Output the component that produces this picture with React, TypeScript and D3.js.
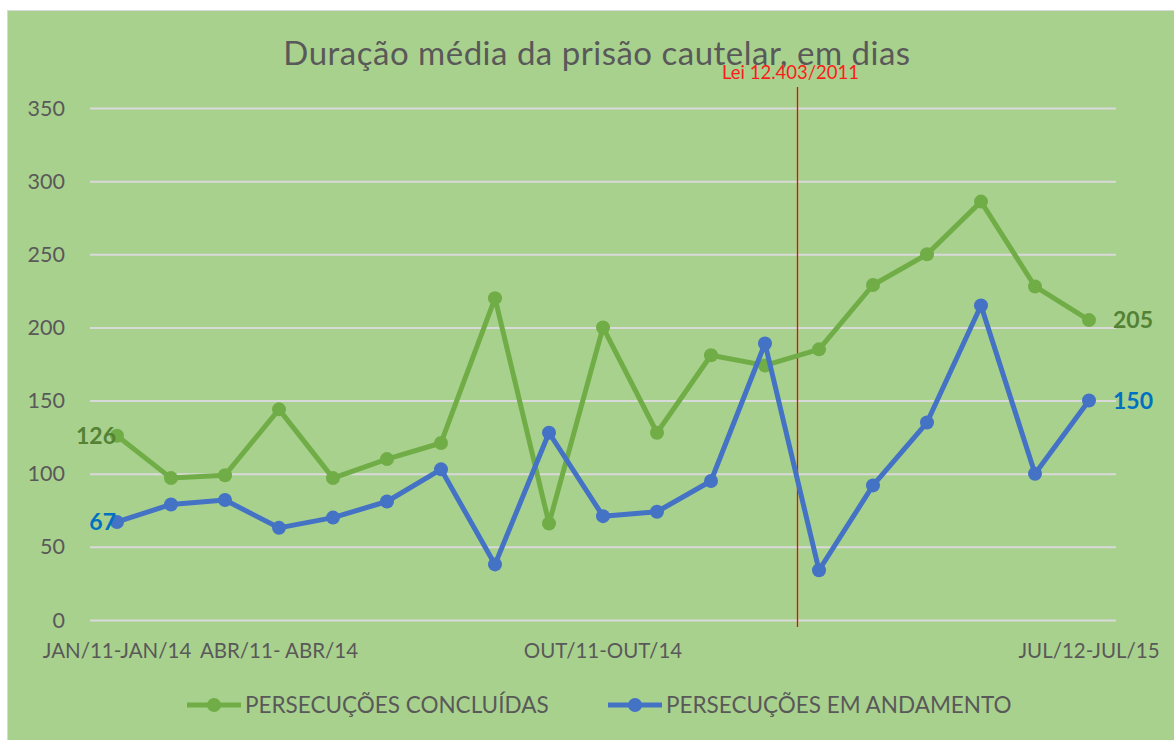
import { useEffect, useRef } from 'react';
import * as d3 from 'd3';

const categories = [
  'JAN/11-JAN/14', '', '', 'ABR/11- ABR/14', '', '', '', '', '', 'OUT/11-OUT/14',
  '', '', '', '', '', '', '', '', 'JUL/12-JUL/15',
];
const concluidas = [126, 97, 99, 144, 97, 110, 121, 220, 66, 200, 128, 181, 174, 185, 229, 250, 286, 228, 205];
const andamento = [67, 79, 82, 63, 70, 81, 103, 38, 128, 71, 74, 95, 189, 34, 92, 135, 215, 100, 150];
const yTicks = [0, 50, 100, 150, 200, 250, 300, 350];
const leiLabel = 'Lei 12.403/2011';
const leiIndex = 12.6;

const W = 1174;
const H = 740;
const FONT = 'Lato, "Open Sans", sans-serif';
const GREEN = '#70ad47';
const BLUE = '#4472c4';

export default function App() {
  const svgRef = useRef<SVGSVGElement>(null);

  useEffect(() => {
    document.body.style.margin = '0';
    if (!svgRef.current) return;
    const svg = d3.select(svgRef.current);
    svg.selectAll('*').remove();

    const left = 90;
    const right = 1116;
    const x = d3.scaleLinear().domain([-0.5, categories.length - 0.5]).range([left, right]);
    const y = d3.scaleLinear().domain([0, 350]).range([620, 108]);

    // background
    svg.append('rect').attr('width', W).attr('height', H).attr('fill', '#fff');
    svg.append('rect')
      .attr('x', 7.5).attr('y', 10.5).attr('width', W).attr('height', H)
      .attr('fill', '#a9d18e').attr('stroke', '#d9d9d9');

    // title
    svg.append('text')
      .attr('x', 597).attr('y', 65)
      .attr('text-anchor', 'middle')
      .attr('font-family', FONT).attr('font-size', 33)
      .attr('letter-spacing', 0.5)
      .attr('fill', '#595959')
      .text('Duração média da prisão cautelar, em dias');

    // grid
    svg.append('g')
      .attr('transform', `translate(${left},0)`)
      .call(d3.axisLeft(y).tickValues(yTicks).tickSize(-(right - left)).tickFormat(() => ''))
      .call((g) => g.select('.domain').remove())
      .call((g) => g.selectAll('line').attr('stroke', '#d9d9d9').attr('stroke-width', 2));

    // y labels
    svg.append('g')
      .selectAll('text')
      .data(yTicks)
      .join('text')
      .attr('x', 65).attr('y', (d) => y(d) + 7.5)
      .attr('text-anchor', 'end')
      .attr('font-family', FONT).attr('font-size', 21.5)
      .attr('fill', '#595959')
      .text((d) => d);

    // x labels
    svg.append('g')
      .selectAll('text')
      .data(categories)
      .join('text')
      .attr('x', (_, i) => x(i)).attr('y', 658)
      .attr('text-anchor', 'middle')
      .attr('font-family', FONT).attr('font-size', 20.5)
      .attr('fill', '#595959')
      .text((d) => d);

    // Lei marker
    const lx = Math.round(x(leiIndex)) + 0.5;
    svg.append('line')
      .attr('x1', lx).attr('x2', lx)
      .attr('y1', 87).attr('y2', 627)
      .attr('stroke', '#ff0000').attr('stroke-width', 1.3);
    svg.append('text')
      .attr('x', lx - 7).attr('y', 79)
      .attr('text-anchor', 'middle')
      .attr('font-family', FONT).attr('font-size', 18.5)
      .attr('fill', '#ff1a1a')
      .text(leiLabel);

    const series = [
      { values: concluidas, color: GREEN, labelColor: '#548235' },
      { values: andamento, color: BLUE, labelColor: '#0070c0' },
    ];
    const line = d3.line<number>().x((_, i) => x(i)).y((d) => y(d));

    series.forEach((s) => {
      svg.append('path')
        .datum(s.values)
        .attr('fill', 'none')
        .attr('stroke', s.color)
        .attr('stroke-width', 5)
        .attr('stroke-linejoin', 'round')
        .attr('d', line);
      svg.append('g')
        .selectAll('circle')
        .data(s.values)
        .join('circle')
        .attr('cx', (_, i) => x(i)).attr('cy', (d) => y(d))
        .attr('r', 7)
        .attr('fill', s.color);
    });

    // data labels at ends
    series.forEach((s) => {
      const first = s.values[0];
      const last = s.values[s.values.length - 1];
      svg.append('text')
        .attr('x', x(0) - 1).attr('y', y(first) + 8)
        .attr('text-anchor', 'end')
        .attr('font-family', FONT).attr('font-size', 23).attr('font-weight', 'bold')
        .attr('fill', s.labelColor)
        .text(first);
      svg.append('text')
        .attr('x', x(s.values.length - 1) + 24).attr('y', y(last) + 8)
        .attr('text-anchor', 'start')
        .attr('font-family', FONT).attr('font-size', 23).attr('font-weight', 'bold')
        .attr('fill', s.labelColor)
        .text(last);
    });

    // legend
    const legend = [
      { name: 'PERSECUÇÕES CONCLUÍDAS', color: GREEN, x0: 187 },
      { name: 'PERSECUÇÕES EM ANDAMENTO', color: BLUE, x0: 608 },
    ];
    legend.forEach((l) => {
      const g = svg.append('g');
      g.append('line')
        .attr('x1', l.x0).attr('x2', l.x0 + 54)
        .attr('y1', 705).attr('y2', 705)
        .attr('stroke', l.color).attr('stroke-width', 5);
      g.append('circle').attr('cx', l.x0 + 27).attr('cy', 705).attr('r', 7).attr('fill', l.color);
      g.append('text')
        .attr('x', l.x0 + 58).attr('y', 713)
        .attr('font-family', FONT).attr('font-size', 22.5)
        .attr('fill', '#595959')
        .text(l.name);
    });
  }, []);

  return <svg ref={svgRef} width={W} height={H} style={{ display: 'block' }} />;
}
